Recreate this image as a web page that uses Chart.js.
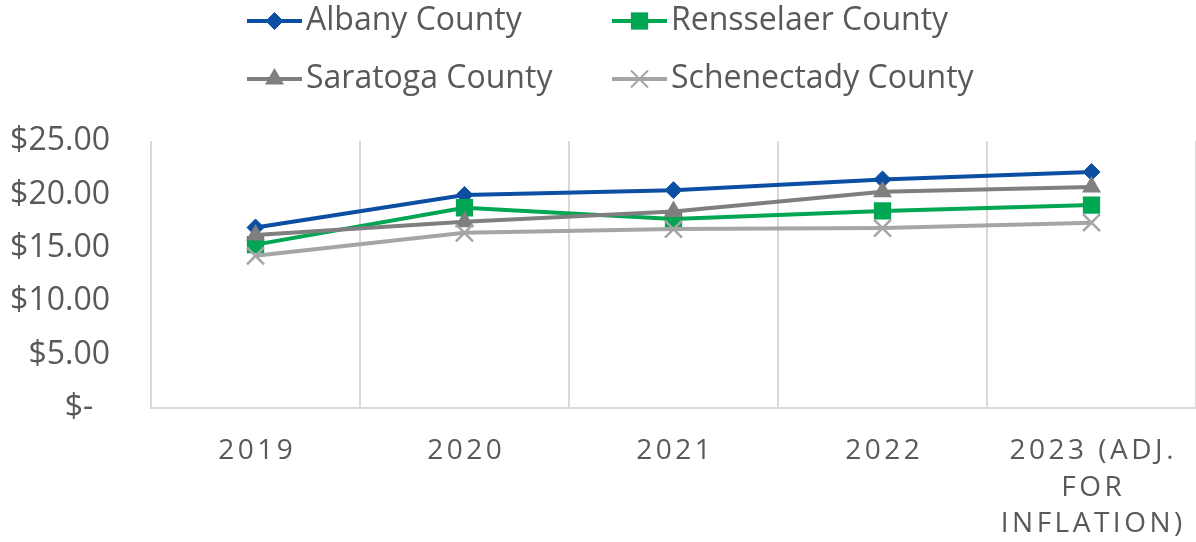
<!DOCTYPE html>
<html>
<head>
<meta charset="utf-8">
<script src="https://cdn.jsdelivr.net/npm/chart.js@4/dist/chart.umd.min.js"></script>
<style>
  html, body { margin: 0; padding: 0; background: #ffffff; }
  #wrap { width: 1196px; height: 542px; position: relative; }
</style>
</head>
<body>
<div id="wrap"><canvas id="c" width="1196" height="542"></canvas></div>
<script>
// ---- Data ----
const categories = ['2019', '2020', '2021', '2022', ['2023 (ADJ.', 'FOR', 'INFLATION)']];
const seriesNames = ['Albany County', 'Rensselaer County', 'Saratoga County', 'Schenectady County'];
const albany      = [16.90, 19.95, 20.40, 21.40, 22.10];
const rensselaer  = [15.30, 18.75, 17.70, 18.45, 19.00];
const saratoga    = [16.20, 17.45, 18.40, 20.25, 20.70];
const schenectady = [14.25, 16.40, 16.75, 16.85, 17.35];
const yTickValues = [0, 5, 10, 15, 20, 25];
const yTickLabels = ['$-  ', '$5.00', '$10.00', '$15.00', '$20.00', '$25.00'];

// ---- Styles ----
const TEXT = '#595959';
const GRID = '#D9D9D9';
const FONT = '"Open Sans", "Liberation Sans", sans-serif';
const styles = [
  { color: '#0B4EA2', pointStyle: 'rectRot', radius: 8.5, pbw: 1 },
  { color: '#00A651', pointStyle: 'rect', radius: 12.2, pbw: 0 },
  { color: '#7F7F80', pointStyle: 'triangle', radius: 11, pbw: 0 },
  { color: '#A5A5A5', pointStyle: 'crossRot', radius: 12, pbw: 2.5 }
];
const seriesValues = [albany, rensselaer, saratoga, schenectady];

const datasets = seriesValues.map((vals, i) => ({
  label: seriesNames[i],
  data: vals,
  borderColor: styles[i].color,
  backgroundColor: styles[i].color,
  pointBackgroundColor: styles[i].color,
  pointBorderColor: styles[i].color,
  pointStyle: styles[i].pointStyle,
  pointRadius: styles[i].radius,
  pointHoverRadius: styles[i].radius,
  pointBorderWidth: styles[i].pbw,
  borderWidth: 4,
  tension: 0,
  fill: false,
  order: 4 - i
}));

// custom 2x2 legend
const legendCols = [247, 612];
const legendRows = [21, 79];
const gridLegend = {
  id: 'gridLegend',
  afterDraw(chart) {
    const ctx = chart.ctx;
    chart.data.datasets.forEach((ds, i) => {
      const x0 = legendCols[i % 2];
      const y = legendRows[Math.floor(i / 2)];
      ctx.save();
      ctx.strokeStyle = ds.borderColor;
      ctx.lineWidth = 4;
      ctx.beginPath();
      ctx.moveTo(x0, y);
      ctx.lineTo(x0 + 55, y);
      ctx.stroke();
      ctx.fillStyle = ds.pointBackgroundColor;
      ctx.strokeStyle = ds.pointBorderColor;
      ctx.lineWidth = ds.pointStyle === 'crossRot' ? 2 : ds.pointBorderWidth;
      Chart.helpers.drawPoint(ctx, {
        pointStyle: ds.pointStyle,
        radius: ds.pointRadius,
        borderWidth: ds.pointStyle === 'crossRot' ? 2 : ds.pointBorderWidth,
        rotation: 0
      }, x0 + 27.5, y);
      ctx.fillStyle = TEXT;
      ctx.font = '32px ' + FONT;
      ctx.textBaseline = 'middle';
      ctx.textAlign = 'left';
      ctx.fillText(ds.label, x0 + 59, y);
      ctx.restore();
    });
  }
};

// letter spacing for x labels
const LS = 3.5;
const xSpacing = {
  id: 'xSpacing',
  afterLayout(chart) {
    const sx = chart.scales.x;
    if (sx && !sx._lsPatched) {
      const orig = sx.drawLabels;
      sx.drawLabels = function (area) {
        const c = this.ctx;
        c.save();
        c.letterSpacing = LS + 'px';
        c.translate(LS / 2, 0);
        orig.call(this, area);
        c.restore();
      };
      sx._lsPatched = true;
    }
  }
};

function build() {
  new Chart(document.getElementById('c'), {
    type: 'line',
    data: { labels: categories, datasets },
    plugins: [gridLegend, xSpacing],
    options: {
      responsive: false,
      animation: false,
      events: [],
      layout: { autoPadding: false, padding: { top: 141, left: 0, right: 0, bottom: 0 } },
      plugins: { legend: { display: false }, tooltip: { enabled: false } },
      scales: {
        x: {
          offset: true,
          afterFit(scale) { scale.height = 134; scale.paddingLeft = 0; scale.paddingRight = 0; },
          grid: {
            display: true, offset: true, lineWidth: 2, drawTicks: false,
            color: (c) => (c.index >= categories.length ? 'rgba(0,0,0,0)' : GRID)
          },
          border: { display: true, color: GRID, width: 2 },
          ticks: {
            color: TEXT,
            font: { family: FONT, size: 28, lineHeight: 36.5 / 28 },
            padding: 25,
            maxRotation: 0,
            autoSkip: false
          }
        },
        y: {
          min: 0,
          max: 25,
          afterFit(scale) { scale.width = 151; scale.paddingTop = 0; scale.paddingBottom = 0; },
          afterBuildTicks(scale) { scale.ticks = yTickValues.map(v => ({ value: v })); },
          grid: { display: false, drawTicks: false },
          border: { display: false },
          ticks: {
            color: TEXT,
            font: { family: FONT, size: 32 },
            padding: 41,
            callback: (v) => yTickLabels[yTickValues.indexOf(v)]
          }
        }
      }
    }
  });
}

Promise.all([
  document.fonts.load('32px "Open Sans"'),
  document.fonts.load('28px "Open Sans"')
]).then(build, build);
</script>
</body>
</html>
